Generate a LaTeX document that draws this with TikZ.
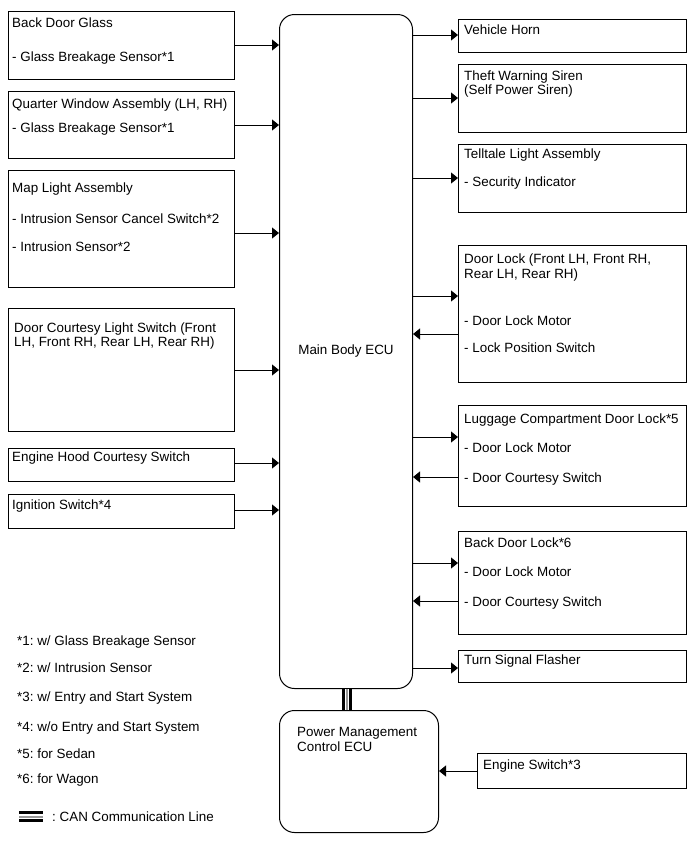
\documentclass[tikz,border=0pt]{standalone}
\usepackage{fontspec}
\setmainfont{Liberation Sans}
\usetikzlibrary{arrows.meta}
\definecolor{cangray}{RGB}{150,150,150}
\frenchspacing
\begin{document}
\frenchspacing
\begin{tikzpicture}[x=1pt,y=-1pt,
  box/.style={draw, line width=1pt, inner sep=0pt, anchor=north west},
  rbox/.style={draw, line width=1pt, rounded corners=15pt, inner sep=0pt, anchor=north west},
  lbl/.style={anchor=base west, inner sep=0pt, font=\fontsize{13.4}{15}\selectfont},
  arr/.style={line width=1pt, -{Triangle[length=7pt,width=11pt]}},
]
\useasboundingbox (0,0) rectangle (691,854);

% main nodes
\node[rbox, minimum width=133pt, minimum height=674pt, font=\fontsize{13.4}{15}\selectfont] (ecu) at (279,14) {Main Body ECU};
\node[rbox, minimum width=159pt, minimum height=122pt] (pm) at (279,710) {};

% left boxes
\node[box, minimum width=226pt, minimum height=68pt]  (lb1) at (8,11) {};
\node[box, minimum width=226pt, minimum height=67pt]  (lb2) at (8,91) {};
\node[box, minimum width=226pt, minimum height=117pt] (lb3) at (8,170) {};
\node[box, minimum width=226pt, minimum height=123pt] (lb4) at (8,308) {};
\node[box, minimum width=226pt, minimum height=33pt]  (lb5) at (8,448) {};
\node[box, minimum width=226pt, minimum height=34pt]  (lb6) at (8,494) {};

% right boxes
\node[box, minimum width=228pt, minimum height=33pt]  (rb1) at (458,19) {};
\node[box, minimum width=228pt, minimum height=68pt]  (rb2) at (458,64) {};
\node[box, minimum width=228pt, minimum height=68pt]  (rb3) at (458,144) {};
\node[box, minimum width=228pt, minimum height=137pt] (rb4) at (458,245) {};
\node[box, minimum width=228pt, minimum height=101pt] (rb5) at (458,405) {};
\node[box, minimum width=228pt, minimum height=103pt] (rb6) at (458,531) {};
\node[box, minimum width=228pt, minimum height=32pt]  (rb7) at (458,650) {};
\node[box, minimum width=209pt, minimum height=35pt]  (es)  at (477,753) {};

% texts left
\node[lbl] (t11) at (12,27.5) {Back Door Glass};
\node[lbl] (t12) at (12,61) {- Glass Breakage Sensor*1};
\node[lbl] (t21) at (12,108) {Quarter Window Assembly (LH, RH)};
\node[lbl] (t22) at (12,132) {- Glass Breakage Sensor*1};
\node[lbl] (t31) at (12,192) {Map Light Assembly};
\node[lbl] (t32) at (12,223) {- Intrusion Sensor Cancel Switch*2};
\node[lbl] (t33) at (12,251) {- Intrusion Sensor*2};
\node[lbl] (t41) at (14,332.5) {Door Courtesy Light Switch (Front};
\node[lbl] (t42) at (14,346.5) {LH, Front RH, Rear LH, Rear RH)};
\node[lbl] (t51) at (12,461.5) {Engine Hood Courtesy Switch};
\node[lbl] (t61) at (12,509.5) {Ignition Switch*4};

% texts right
\node[lbl] (r11) at (464,34.5) {Vehicle Horn};
\node[lbl] (r21) at (464,80.5) {Theft Warning Siren};
\node[lbl] (r22) at (464,94.5) {(Self Power Siren)};
\node[lbl] (r31) at (464,158.5) {Telltale Light Assembly};
\node[lbl] (r32) at (464,186.5) {- Security Indicator};
\node[lbl] (r41) at (464,263.5) {Door Lock (Front LH, Front RH,};
\node[lbl] (r42) at (464,278.5) {Rear LH, Rear RH)};
\node[lbl] (r43) at (464,325.5) {- Door Lock Motor};
\node[lbl] (r44) at (464,352.5) {- Lock Position Switch};
\node[lbl] (r51) at (464,423) {Luggage Compartment Door Lock*5};
\node[lbl] (r52) at (464,452) {- Door Lock Motor};
\node[lbl] (r53) at (464,482.5) {- Door Courtesy Switch};
\node[lbl] (r61) at (464,547) {Back Door Lock*6};
\node[lbl] (r62) at (464,576.5) {- Door Lock Motor};
\node[lbl] (r63) at (464,606) {- Door Courtesy Switch};
\node[lbl] (r71) at (464,664.5) {Turn Signal Flasher};
\node[lbl] (es1) at (483,769.5) {Engine Switch*3};
\node[lbl] (pm1) at (297,736) {Power Management};
\node[lbl] (pm2) at (297,751.5) {Control ECU};

% legend
\node[lbl] (n1) at (17,645.5) {*1: w/ Glass Breakage Sensor};
\node[lbl] (n2) at (17,672.5) {*2: w/ Intrusion Sensor};
\node[lbl] (n3) at (17,701.5) {*3: w/ Entry and Start System};
\node[lbl] (n4) at (17,731) {*4: w/o Entry and Start System};
\node[lbl] (n5) at (17,758.5) {*5: for Sedan};
\node[lbl] (n6) at (17,783.5) {*6: for Wagon};
\node[lbl] (n7) at (52,821.5) {: CAN Communication Line};

% arrow level coordinates
\coordinate (yL1) at (0,45);
\coordinate (yL2) at (0,125);
\coordinate (yL3) at (0,233);
\coordinate (yL4) at (0,370);
\coordinate (yL5) at (0,463);
\coordinate (yL6) at (0,510);
\coordinate (yR1) at (0,35);
\coordinate (yR2) at (0,98);
\coordinate (yR3) at (0,178);
\coordinate (yR4) at (0,296);
\coordinate (yR4i) at (0,334);
\coordinate (yR5) at (0,437);
\coordinate (yR5i) at (0,477);
\coordinate (yR6) at (0,563);
\coordinate (yR6i) at (0,601);
\coordinate (yR7) at (0,668);
\coordinate (yES) at (0,771);

\foreach \i in {1,...,6} {
  \draw[arr] (lb\i.east |- yL\i) -- (ecu.west |- yL\i);
}
\foreach \i in {1,...,7} {
  \draw[arr] (ecu.east |- yR\i) -- (rb\i.west |- yR\i);
}
\foreach \i in {4,5,6} {
  \draw[arr] (rb\i.west |- yR\i i) -- (ecu.east |- yR\i i);
}
\draw[arr] (es.west |- yES) -- (pm.east |- yES);

% CAN line between ECUs
\coordinate (canx) at (347,0);
\draw[line width=10pt] (ecu.south -| canx) -- (pm.north -| canx);
\draw[white, line width=4pt] (ecu.south -| canx) -- (pm.north -| canx);
\draw[cangray, line width=2pt] (ecu.south -| canx) -- (pm.north -| canx);

% CAN legend symbol
\coordinate (canA) at (19,816.5);
\coordinate (canB) at (43,816.5);
\draw[line width=11pt] (canA) -- (canB);
\draw[white, line width=5pt] (canA) -- (canB);
\draw[cangray, line width=2pt] (canA) -- (canB);
\end{tikzpicture}
\end{document}
